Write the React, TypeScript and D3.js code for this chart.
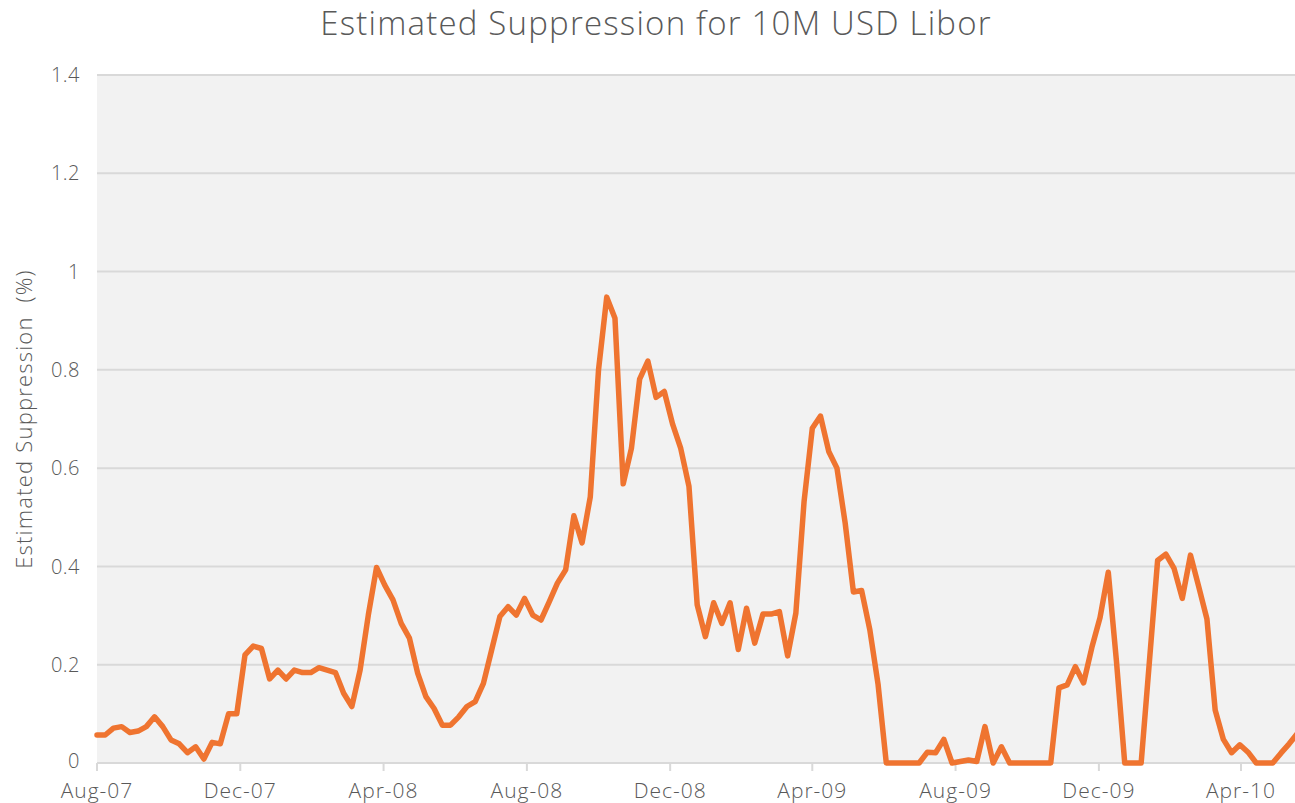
import React from "react";
import * as d3 from "d3";

// weekly estimates, first week of Aug-07 onward (in %)
const suppression = [
  0.057, 0.057, 0.071, 0.074, 0.062, 0.065, 0.074, 0.094, 0.074, 0.047,
  0.039, 0.021, 0.033, 0.008, 0.042, 0.039, 0.1, 0.1, 0.22, 0.238,
  0.233, 0.171, 0.189, 0.171, 0.189, 0.184, 0.184, 0.194, 0.189, 0.184,
  0.142, 0.115, 0.189, 0.301, 0.398, 0.362, 0.332, 0.284, 0.254, 0.183,
  0.135, 0.111, 0.077, 0.077, 0.094, 0.115, 0.125, 0.162, 0.23, 0.298,
  0.318, 0.301, 0.335, 0.301, 0.291, 0.328, 0.366, 0.393, 0.503, 0.448,
  0.542, 0.8, 0.948, 0.905, 0.568, 0.64, 0.781, 0.818, 0.744, 0.756,
  0.69, 0.64, 0.563, 0.322, 0.257, 0.326, 0.284, 0.326, 0.231, 0.315,
  0.244, 0.303, 0.303, 0.308, 0.218, 0.305, 0.532, 0.681, 0.706, 0.634,
  0.6, 0.488, 0.348, 0.351, 0.271, 0.16, 0, 0, 0, 0,
  0, 0.022, 0.021, 0.048, 0, 0.003, 0.006, 0.003, 0.074, 0,
  0.033, 0, 0, 0, 0, 0, 0, 0.153, 0.159, 0.196,
  0.163, 0.235, 0.296, 0.388, 0.206, 0, 0, 0, 0.206, 0.412,
  0.425, 0.396, 0.335, 0.423, 0.359, 0.293, 0.108, 0.048, 0.021, 0.037,
  0.022, 0, 0, 0, 0.02, 0.039, 0.06,
];

const startDate = new Date(2007, 7, 1);
const tickDates = [
  new Date(2007, 7, 1), new Date(2007, 11, 1), new Date(2008, 3, 1),
  new Date(2008, 7, 1), new Date(2008, 11, 1), new Date(2009, 3, 1),
  new Date(2009, 7, 1), new Date(2009, 11, 1), new Date(2010, 3, 1),
];
const yTicks = [0, 0.2, 0.4, 0.6, 0.8, 1, 1.2, 1.4];

const W = 1295;
const H = 803;
const left = 97, right = 1295, top = 75, bottom = 763;
const font = "'Open Sans', Lato, sans-serif";
const grey = "#595959";

export default function App() {
  const points = suppression.map((v, i) => ({ date: d3.timeWeek.offset(startDate, i), v }));

  const x = d3.scaleTime()
    .domain([tickDates[0], tickDates[tickDates.length - 1]])
    .range([left, 1241]);
  const y = d3.scaleLinear().domain([0, 1.4]).range([bottom, top]);

  const line = d3.line<{ date: Date; v: number }>()
    .x(d => x(d.date))
    .y(d => y(d.v));

  const fmt = d3.timeFormat("%b-%y");

  return (
    <svg width={W} height={H} style={{ position: "absolute", left: 0, top: 0 }}>
      <defs>
        <clipPath id="plot">
          <rect x={left - 4} y={top - 4} width={right - left + 4} height={bottom - top + 8} />
        </clipPath>
      </defs>
      <rect x={0} y={0} width={W} height={H} fill="#fff" />
      <rect x={left} y={top} width={right - left} height={bottom - top} fill="#f2f2f2" />

      {yTicks.map(t => (
        <g key={t}>
          <line x1={left} x2={right} y1={y(t)} y2={y(t)} stroke="#d9d9d9" strokeWidth={2} />
          <text x={80} y={y(t) - (t === 0 ? 2 : 0)} dy="0.36em" textAnchor="end" fontFamily={font}
            fontWeight={300} fontSize={20} letterSpacing={0.5} fill={grey}>{t}</text>
        </g>
      ))}

      {tickDates.map(d => (
        <g key={d.getTime()}>
          <line x1={x(d)} x2={x(d)} y1={bottom} y2={bottom + 8} stroke="#d9d9d9" strokeWidth={2} />
          <text x={x(d)} y={798} textAnchor="middle" fontFamily={font} fontWeight={300}
            fontSize={21} letterSpacing={1} fill={grey}>{fmt(d)}</text>
        </g>
      ))}

      <path d={line(points) || ""} fill="none" stroke="#ef7430" strokeWidth={5.5}
        strokeLinejoin="round" strokeLinecap="round" clipPath="url(#plot)" />

      <text x={656} y={35} textAnchor="middle" fontFamily={font} fontWeight={300}
        fontSize={33} letterSpacing={1.2} fill={grey}>Estimated Suppression for 10M USD Libor</text>

      <text transform={`translate(32, ${419}) rotate(-90)`} textAnchor="middle" fontFamily={font}
        fontWeight={300} fontSize={22} letterSpacing={1.2} fill={grey} style={{ whiteSpace: "pre" }}>
        Estimated Suppression  (%)
      </text>
    </svg>
  );
}
